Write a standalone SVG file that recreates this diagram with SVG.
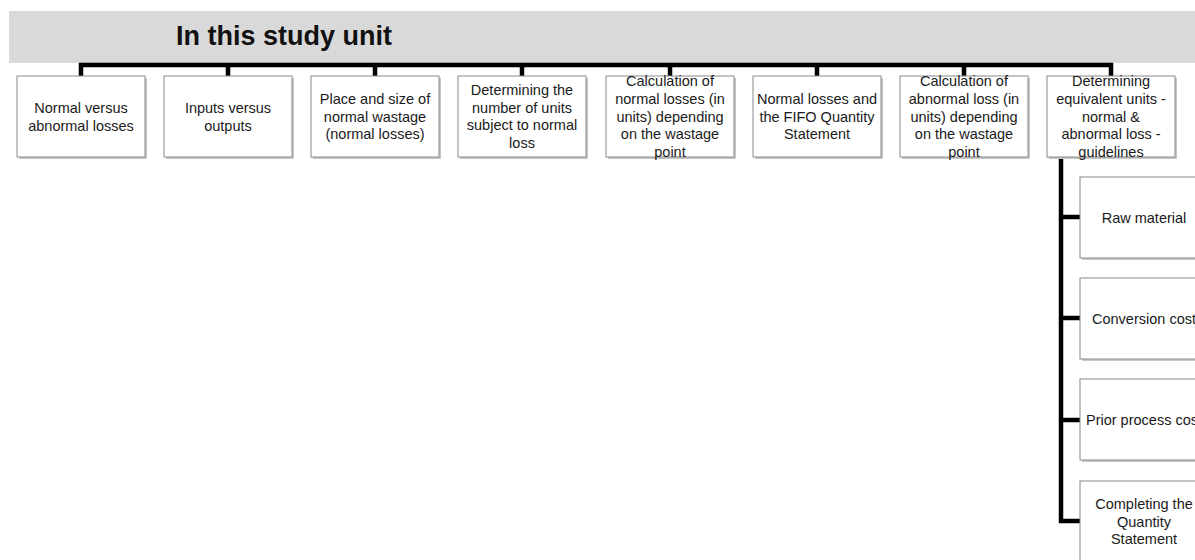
<svg xmlns="http://www.w3.org/2000/svg" width="1195" height="560" viewBox="0 0 1195 560">
<defs>
<style>
.bg{fill:#ffffff}
.hdr{fill:#d9d9d9}
.title{font-family:"Liberation Sans",Arial,sans-serif;font-weight:bold;font-size:27px;fill:#111}
.box{fill:#ffffff;stroke:#8a8a8a;stroke-width:1}
.shadow{fill:#c8c8c8}
.t{font-family:"Liberation Sans",Arial,sans-serif;font-size:14.5px;fill:#1a1a1a;text-anchor:middle}
.c{stroke:#000;stroke-width:4.5;fill:none;stroke-linecap:butt;stroke-linejoin:miter}
</style>
</defs>
<rect class="bg" x="0" y="0" width="1195" height="560"/>
<g id="header">
<rect class="hdr" x="9" y="11" width="1186" height="52"/>
<text class="title" x="176" y="45">In this study unit</text>
</g>
<g id="connectors">
<path class="c" d="M81 76 V65 H1111 V76"/>
<path class="c" d="M228 65 V76 M375 65 V76 M522 65 V76 M670 65 V76 M817 65 V76 M964 65 V76"/>
<path class="c" d="M1061 157 V521 H1080 M1061 217 H1080 M1061 318 H1080 M1061 420 H1080"/>
</g>
<g id="n1">
<rect class="shadow" x="19" y="78" width="128" height="81"/>
<rect class="box" x="17" y="76" width="128" height="81"/>
<text class="t"><tspan x="81" y="113">Normal versus</tspan><tspan x="81" y="130.6">abnormal losses</tspan></text>
</g>
<g id="n2">
<rect class="shadow" x="166" y="78" width="128" height="81"/>
<rect class="box" x="164" y="76" width="128" height="81"/>
<text class="t"><tspan x="228" y="113">Inputs versus</tspan><tspan x="228" y="130.6">outputs</tspan></text>
</g>
<g id="n3">
<rect class="shadow" x="313" y="78" width="128" height="81"/>
<rect class="box" x="311" y="76" width="128" height="81"/>
<text class="t"><tspan x="375" y="104">Place and size of</tspan><tspan x="375" y="121.6">normal wastage</tspan><tspan x="375" y="139.2">(normal losses)</tspan></text>
</g>
<g id="n4">
<rect class="shadow" x="460" y="78" width="128" height="81"/>
<rect class="box" x="458" y="76" width="128" height="81"/>
<text class="t"><tspan x="522" y="95.2">Determining the</tspan><tspan x="522" y="112.8">number of units</tspan><tspan x="522" y="130.4">subject to normal</tspan><tspan x="522" y="148">loss</tspan></text>
</g>
<g id="n5">
<rect class="shadow" x="608" y="78" width="128" height="81"/>
<rect class="box" x="606" y="76" width="128" height="81"/>
<text class="t"><tspan x="670" y="86.3">Calculation of</tspan><tspan x="670" y="103.9">normal losses (in</tspan><tspan x="670" y="121.5">units) depending</tspan><tspan x="670" y="139.1">on the wastage</tspan><tspan x="670" y="156.7">point</tspan></text>
</g>
<g id="n6">
<rect class="shadow" x="755" y="78" width="128" height="81"/>
<rect class="box" x="753" y="76" width="128" height="81"/>
<text class="t"><tspan x="817" y="104">Normal losses and</tspan><tspan x="817" y="121.6">the FIFO Quantity</tspan><tspan x="817" y="139.2">Statement</tspan></text>
</g>
<g id="n7">
<rect class="shadow" x="902" y="78" width="128" height="81"/>
<rect class="box" x="900" y="76" width="128" height="81"/>
<text class="t"><tspan x="964" y="86.3">Calculation of</tspan><tspan x="964" y="103.9">abnormal loss (in</tspan><tspan x="964" y="121.5">units) depending</tspan><tspan x="964" y="139.1">on the wastage</tspan><tspan x="964" y="156.7">point</tspan></text>
</g>
<g id="n8">
<rect class="shadow" x="1049" y="78" width="128" height="81"/>
<rect class="box" x="1047" y="76" width="128" height="81"/>
<text class="t"><tspan x="1111" y="86.3">Determining</tspan><tspan x="1111" y="103.9">equivalent units -</tspan><tspan x="1111" y="121.5">normal &amp;</tspan><tspan x="1111" y="139.1">abnormal loss -</tspan><tspan x="1111" y="156.7">guidelines</tspan></text>
</g>
<g id="s1">
<rect class="shadow" x="1082" y="179" width="128" height="81"/>
<rect class="box" x="1080" y="177" width="128" height="81"/>
<text class="t" x="1144" y="222.5">Raw material</text>
</g>
<g id="s2">
<rect class="shadow" x="1082" y="280" width="128" height="81"/>
<rect class="box" x="1080" y="278" width="128" height="81"/>
<text class="t" x="1144" y="323.5">Conversion cost</text>
</g>
<g id="s3">
<rect class="shadow" x="1082" y="381" width="128" height="81"/>
<rect class="box" x="1080" y="379" width="128" height="81"/>
<text class="t" x="1144" y="425">Prior process cost</text>
</g>
<g id="s4">
<rect class="shadow" x="1082" y="483" width="128" height="81"/>
<rect class="box" x="1080" y="481" width="128" height="81"/>
<text class="t"><tspan x="1144" y="508.9">Completing the</tspan><tspan x="1144" y="526.5">Quantity</tspan><tspan x="1144" y="544.1">Statement</tspan></text>
</g>
</svg>
